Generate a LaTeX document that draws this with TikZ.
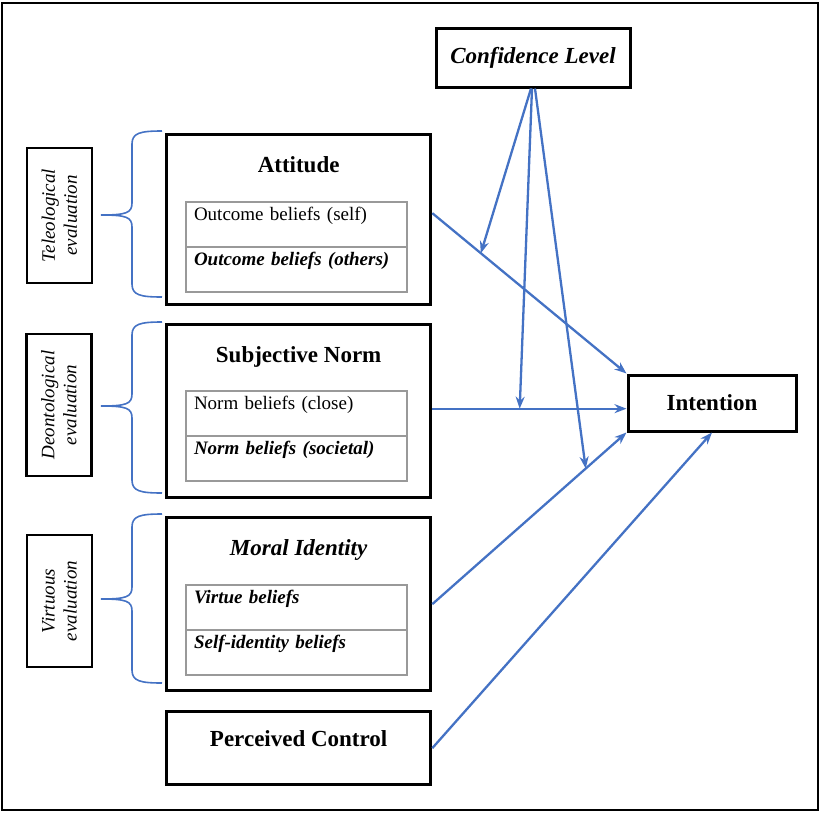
\documentclass[tikz,border=0pt]{standalone}
\usepackage{fontspec}
\setmainfont{Liberation Serif}
\usetikzlibrary{arrows.meta}
\usetikzlibrary{calc}
\definecolor{linkblue}{HTML}{4472C4}
\newcommand{\titlesize}{\fontsize{23}{27}\selectfont}
\newcommand{\rowsize}{\fontsize{19}{22}\selectfont}
\newcommand{\evalbrace}[3]{%
  \draw[bracestyle] (162,#1) .. controls (140,#1) and (132,#1+2) .. (132,#1+13)
    -- (132,#2-12) .. controls (132,#2-2) and (126,#2) .. (101,#2)
    .. controls (126,#2) and (132,#2+2) .. (132,#2+12)
    -- (132,#3-13) .. controls (132,#3-2) and (140,#3) .. (162,#3);}

\begin{document}
\begin{tikzpicture}[
  x=1pt, y=-1pt,
  construct/.style={
    draw, line width=3.3pt, anchor=north west,
    minimum width=264pt, inner sep=0pt,
    font=\titlesize\bfseries, text height=38pt
  },
  beliefrow/.style={
    draw=gray!80, line width=1.2pt, anchor=north west, outer sep=0pt,
    minimum width=221pt, text width=205pt, inner xsep=8pt, inner ysep=0pt,
    align=left, font=\rowsize, text height=18pt, text depth=27pt
  },
  evalbox/.style={
    draw, line width=2.8pt, rotate=90, align=center,
    minimum height=65pt, inner sep=2pt,
    font=\rowsize\itshape
  },
  effect/.style={draw=linkblue, line width=2.3pt, -{Stealth[length=12pt,width=9pt]}},
  bracestyle/.style={draw=linkblue, line width=1.6pt}
]
\useasboundingbox (0,0) rectangle (820,812);
\draw[line width=1.8pt] (2,3) rectangle (818,810);

\node[draw, line width=3pt, minimum width=194pt, minimum height=59pt,
  font=\titlesize\bfseries\itshape] (conf) at (533,57.5) {Confidence Level};
\node[draw, line width=3pt, minimum width=168pt, minimum height=56pt,
  font=\titlesize\bfseries] (int) at (712,403) {Intention};

\node[construct, text depth=132pt] (att) at (165,132.5) {Attitude};
\node[beliefrow] (att1) at (186,202) {Outcome beliefs (self)};
\node[beliefrow] (att2) at (att1.south west) {\bfseries\itshape Outcome beliefs (others)};

\node[construct, text depth=135pt] (sn) at (165,322.5) {Subjective Norm};
\node[beliefrow] (sn1) at (186,391) {Norm beliefs (close)};
\node[beliefrow] (sn2) at (sn1.south west) {\bfseries\itshape Norm beliefs (societal)};

\node[construct, text depth=135pt] (mi) at (165,516) {\itshape Moral Identity};
\node[beliefrow] (mi1) at (186,585) {\bfseries\itshape Virtue beliefs};
\node[beliefrow] (mi2) at (mi1.south west) {\bfseries\itshape Self-identity beliefs};

\node[construct, text height=35pt, text depth=38pt] (pc) at (165,710) {Perceived Control};

\node[evalbox, minimum width=135pt] (tele) at (59.5,215.5) {Teleological\\evaluation};
\node[evalbox, minimum width=142pt] (deon) at (59,405) {Deontological\\evaluation};
\node[evalbox, minimum width=132pt] (virt) at (59.5,601) {Virtuous\\evaluation};

\evalbrace{131}{215}{297}
\evalbrace{322}{406}{493}
\evalbrace{514}{599}{683}

\draw[effect] ([yshift=6pt]att.east) -- coordinate[pos=0.25] (modatt) (int.north west);
\draw[effect] ([yshift=2pt]sn.east) -- coordinate[pos=0.45] (modsn) ([yshift=2pt]sn.east -| int.west);
\draw[effect] (mi.east) -- coordinate[pos=0.79] (modmi) (int.south west);
\draw[effect] (pc.east) -- (int.south);

\draw[effect] ([xshift=-2pt]conf.south) -- (modatt);
\draw[effect] ([xshift=-1pt]conf.south) -- (modsn);
\draw[effect] ([xshift=2pt]conf.south) -- (modmi);
\end{tikzpicture}
\end{document}
